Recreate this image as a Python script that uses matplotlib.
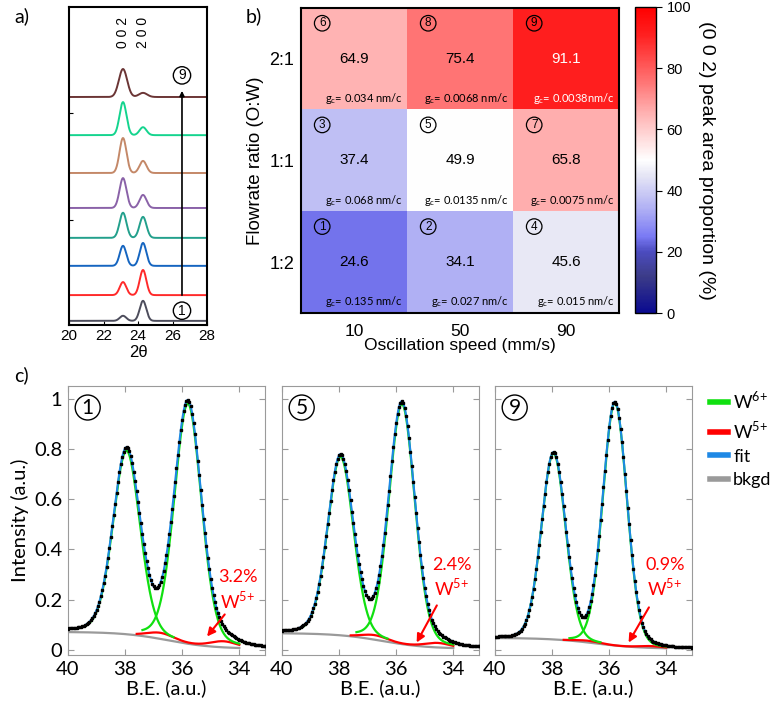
import numpy as np
import matplotlib
matplotlib.use("Agg")
import matplotlib.pyplot as plt
from matplotlib.colors import LinearSegmentedColormap
from matplotlib.lines import Line2D

plt.rcParams['font.family'] = ['Liberation Sans', 'DejaVu Sans']

# a) XRD patterns, samples 1 (bottom) .. 9 (top)
xrd_pos = [23.13, 24.29]          # (0 0 2), (2 0 0)
xrd_offsets = [0.13, 0.94, 1.86, 2.74, 3.68, 4.78, 5.97, 7.17]
xrd_h002 = [0.16, 0.41, 0.63, 0.79, 0.94, 1.10, 1.04, 0.88]
xrd_h200 = [0.63, 0.79, 0.72, 0.66, 0.41, 0.38, 0.25, 0.13]
xrd_width = [0.19, 0.19, 0.19, 0.2, 0.2, 0.2, 0.2, 0.24]
xrd_colors = ['#4d4d5c', '#ff2a2a', '#1565c0', '#23a08c',
              '#8a62a8', '#c48868', '#14d48e', '#6b3535']

# b) (0 0 2) peak area proportion
speeds = ['10', '50', '90']
ratios = ['1:2', '1:1', '2:1']
proportion = [[24.6, 34.1, 45.6],
              [37.4, 49.9, 65.8],
              [64.9, 75.4, 91.1]]
sample_ids = [[1, 2, 4], [3, 5, 7], [6, 8, 9]]
gc = [['0.135 nm/c', '0.027 nm/c', '0.015 nm/c'],
      ['0.068 nm/c', '0.0135 nm/c', '0.0075 nm/c'],
      ['0.034 nm/c', '0.0068 nm/c', '0.0038nm/c']]

# c) W 4f XPS fits for samples 1, 5, 9
xps_samples = [1, 5, 9]
w6_centers = [37.95, 35.80]
w5_centers = [36.75, 34.55]
w6_amps = [[0.73, 0.955], [0.71, 0.955], [0.74, 0.965]]
w5_amps = [0.024, 0.018, 0.007]
fwhm = [1.12, 1.07, 1.0]
eta = [0.2, 0.18, 0.1]
bkg_hi = [0.072, 0.067, 0.048]
w5_pct = ['3.2%', '2.4%', '0.9%']

W, H = 776, 707
fig = plt.figure(figsize=(W / 100, H / 100), dpi=100)

def box(l, t, r, b):
    return [l / W, 1 - b / H, (r - l) / W, (b - t) / H]

# ---------- a) ----------
ax_a = fig.add_axes(box(69, 7, 207, 325))
tt = np.linspace(20, 28, 900)
for i in range(8):
    y = (xrd_offsets[i]
         + xrd_h002[i] * np.exp(-0.5 * ((tt - xrd_pos[0]) / xrd_width[i]) ** 2)
         + xrd_h200[i] * np.exp(-0.5 * ((tt - xrd_pos[1]) / xrd_width[i]) ** 2))
    ax_a.plot(tt, y, color=xrd_colors[i], lw=1.4)
ax_a.set_xlim(20, 28)
ax_a.set_ylim(0, 10)
ax_a.set_xticks([20, 22, 24, 26, 28])
ax_a.set_yticks([3.3, 6.67])
ax_a.set_yticklabels([])
ax_a.tick_params(direction='in', length=3, labelsize=11, pad=3)
for s in ax_a.spines.values():
    s.set_linewidth(1.5)
ax_a.set_xlabel('2θ', fontsize=12, labelpad=1)
ax_a.text(xrd_pos[0], 9.2, '0 0 2', rotation=90, ha='center', va='center', fontsize=10)
ax_a.text(xrd_pos[1], 9.2, '2 0 0', rotation=90, ha='center', va='center', fontsize=10)
ax_a.annotate('', xy=(26.55, 7.45), xytext=(26.55, 0.85),
              arrowprops=dict(arrowstyle='-|>', color='k', lw=1.2, mutation_scale=7))
circ = dict(boxstyle='circle,pad=0.12', fc='white', ec='k', lw=1)
ax_a.text(26.55, 7.85, '9', ha='center', va='center', fontsize=10, bbox=circ)
ax_a.text(26.55, 0.45, '1', ha='center', va='center', fontsize=10, bbox=circ)

# ---------- b) ----------
cmap = LinearSegmentedColormap.from_list(
    'bwr_navy', [(0, '#0a0a90'), (0.12, '#3c3c88'), (0.2, '#4c4cc0'),
                 (0.25, '#7a7af4'), (0.34, '#b0b0f4'), (0.45, '#e6e6f5'),
                 (0.5, '#ffffff'), (0.65, '#ffb4b4'), (0.75, '#ff7878'),
                 (0.91, '#ff2020'), (1, '#ff0000')], N=256)
ax_b = fig.add_axes(box(301, 8, 619, 313))
im = ax_b.imshow(np.array(proportion), cmap=cmap, vmin=0, vmax=100,
                 origin='lower', aspect='auto')
ax_b.set_xticks([0, 1, 2])
ax_b.set_xticklabels(speeds)
ax_b.set_yticks([0, 1, 2])
ax_b.set_yticklabels(ratios)
ax_b.tick_params(axis='x', length=0, labelsize=12.5, pad=8)
ax_b.tick_params(axis='y', length=0, labelsize=13, pad=5)
ax_b.set_xlabel('Oscillation speed (mm/s)', fontsize=12.5, labelpad=-1)
ax_b.set_ylabel('Flowrate ratio (O:W)', fontsize=13.5, labelpad=4)
for s in ax_b.spines.values():
    s.set_linewidth(1.5)
small_circ = dict(boxstyle='circle,pad=0.15', fc='none', ec='k', lw=0.9)
for r in range(3):
    for c in range(3):
        tc = 'white' if proportion[r][c] > 85 else 'black'
        ax_b.text(c, r, f'{proportion[r][c]:.1f}', ha='center', va='center',
                  fontsize=11, color=tc)
        ax_b.text(c - 0.3, r + 0.35, str(sample_ids[r][c]), ha='center', va='center',
                  fontsize=8.5, bbox=small_circ)
        ax_b.text(c + 0.46, r - 0.39, r'g$_\mathregular{c}$= ' + gc[r][c],
                  ha='right', va='center', fontsize=8, color=tc, family='Lato')

cax = fig.add_axes(box(635, 7, 656, 313))
cb = fig.colorbar(im, cax=cax)
cb.set_ticks([0, 20, 40, 60, 80, 100])
cb.ax.tick_params(labelsize=10.5, length=4)
cb.outline.set_linewidth(1)
cb.set_label('(0 0 2) peak area proportion (%)', rotation=270, fontsize=14, va='center')
cax.yaxis.set_label_coords(3.4, 0.5)

# ---------- c) ----------
def pvoigt(x, x0, a, w, e):
    g = np.exp(-4 * np.log(2) * ((x - x0) / w) ** 2)
    lz = 1 / (1 + 4 * ((x - x0) / w) ** 2)
    return a * ((1 - e) * g + e * lz)

xd = np.arange(40.0, 33.05, -0.05)
xf = np.linspace(39.35, 34.0, 400)
xb = np.linspace(40.0, 34.0, 400)
lefts = [68, 282, 495]
arrows = [((34.45, 0.15), (35.19, 0.045)),
          ((34.53, 0.187), (35.33, 0.02)),
          ((34.56, 0.179), (35.37, 0.02))]
text_y = [(0.29, 0.2), (0.337, 0.25), (0.337, 0.25)]
for k in range(3):
    ax = fig.add_axes(box(lefts[k], 386, lefts[k] + 197, 655))

    def bkg(x):
        return 0.005 + (bkg_hi[k] - 0.005) / (1 + np.exp(-(x - 36.5) / 0.8))

    def model(x):
        y = bkg(x)
        for c0, a in zip(w6_centers, w6_amps[k]):
            y = y + pvoigt(x, c0, a, fwhm[k], eta[k])
        for c0 in w5_centers:
            y = y + pvoigt(x, c0, w5_amps[k], fwhm[k], eta[k])
        return y

    ga = bkg(xf) + pvoigt(xf, w6_centers[0], w6_amps[k][0], fwhm[k], eta[k])
    gb = bkg(xf) + pvoigt(xf, w6_centers[1], w6_amps[k][1], fwhm[k], eta[k])
    red = bkg(xf) + sum(pvoigt(xf, c0, w5_amps[k], fwhm[k], eta[k]) for c0 in w5_centers)
    ax.plot(xb, bkg(xb), color='#9a9a9a', lw=1.6, zorder=2)
    ax.plot(np.where(xf <= 37.6, xf, np.nan), red, color='#ff0000', lw=1.6, zorder=3)
    ax.plot(np.where(xf >= 36.3, xf, np.nan), ga, color='#10e010', lw=1.6, zorder=4)
    ax.plot(np.where(xf <= 37.4, xf, np.nan), gb, color='#10e010', lw=1.6, zorder=4)
    ax.plot(xf, model(xf), color='#1e88e5', lw=1.5, zorder=5)
    ax.plot(xd, model(xd), 's', color='k', ms=1.8, zorder=6)

    ax.set_xlim(40, 33.1)
    ax.set_ylim(-0.02, 1.05)
    ax.set_xticks([40, 38, 36, 34])
    ax.set_yticks([0, 0.2, 0.4, 0.6, 0.8, 1.0])
    if k == 0:
        ax.set_yticklabels(['0', '0.2', '0.4', '0.6', '0.8', '1'])
        ax.set_ylabel('Intensity (a.u.)', fontsize=14.5, family='Lato', labelpad=4)
    else:
        ax.set_yticklabels([])
    for lab in ax.get_xticklabels() + ax.get_yticklabels():
        lab.set_family('Lato')
    ax.tick_params(direction='in', length=4, color='#9a9a9a', labelsize=14.5,
                   top=True, right=True, pad=4)
    for s in ax.spines.values():
        s.set_color('#9a9a9a')
    ax.set_xlabel('B.E. (a.u.)', fontsize=14.5, family='Lato', labelpad=1)
    ax.text(0.1, 0.92, str(xps_samples[k]), transform=ax.transAxes, ha='center',
            va='center', fontsize=15, family='Lato',
            bbox=dict(boxstyle='circle,pad=0.12', fc='white', ec='k', lw=1))
    ax.annotate('', xy=arrows[k][1], xytext=arrows[k][0],
                arrowprops=dict(arrowstyle='-|>', color='red', lw=1.5, mutation_scale=12),
                zorder=7)
    ax.text(34.05, text_y[k][0], w5_pct[k], color='red', ha='center', va='center',
            fontsize=13, family='Lato')
    ax.text(34.05, text_y[k][1], r'W$^\mathregular{5{+}}$', color='red', ha='center',
            va='center', fontsize=13, family='Lato')

handles = [Line2D([], [], color='#10e010', lw=4),
           Line2D([], [], color='#ff0000', lw=4),
           Line2D([], [], color='#1e88e5', lw=4),
           Line2D([], [], color='#9a9a9a', lw=4)]
labels = [r'W$^\mathregular{6{+}}$', r'W$^\mathregular{5{+}}$', 'fit', 'bkgd']
fig.legend(handles, labels, loc='upper left', bbox_to_anchor=(697 / W, 1 - 377 / H),
           frameon=False, handlelength=1.0, handletextpad=0.3, labelspacing=0.42,
           borderpad=0.2, prop={'family': 'Lato', 'size': 13})

fig.text(14 / W, 1 - 16 / H, 'a)', fontsize=14, family='Lato', va='center')
fig.text(246 / W, 1 - 16 / H, 'b)', fontsize=14, family='Lato', va='center')
fig.text(14 / W, 1 - 375 / H, 'c)', fontsize=14, family='Lato', va='center')

fig.savefig('out.png', dpi=100)
